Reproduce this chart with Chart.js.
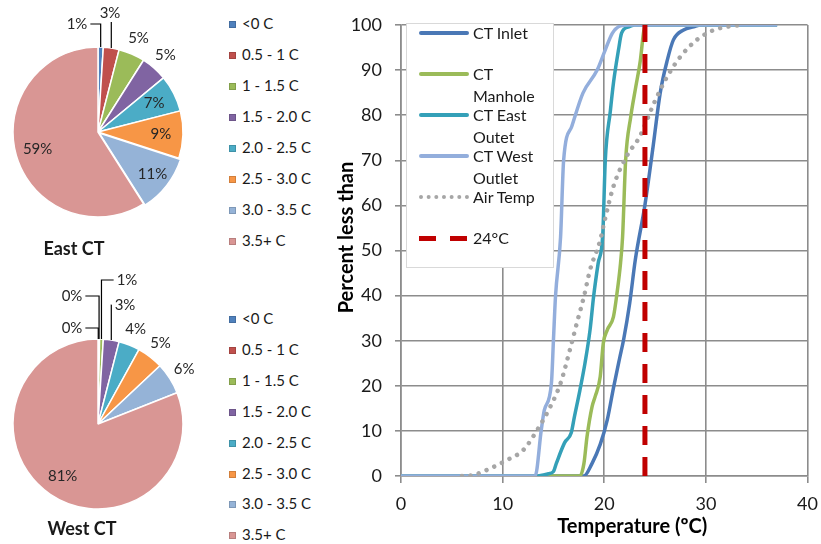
<!DOCTYPE html>
<html>
<head>
<meta charset="utf-8">
<script src="https://cdn.jsdelivr.net/npm/chart.js@4.4.0/dist/chart.umd.min.js"></script>
<style>
  body { margin: 0; width: 821px; height: 544px; overflow: hidden; background: #fff; position: relative; font-family: Lato, sans-serif; color: #1a1a1a; }
  canvas { position: absolute; }
  #eastPie { left: 0; top: 0; }
  #westPie { left: 0; top: 270px; }
  #cdf { left: 330px; top: 0; }
  .pieTitle { position: absolute; font-weight: bold; font-size: 18px; transform: translate(-50%, -50%); white-space: nowrap; }
  .pieLegend { position: absolute; left: 229px; font-size: 15px; }
  .pieLegend div { position: absolute; white-space: nowrap; line-height: 18px; }
  .pieLegend span { display: inline-block; width: 7px; height: 7px; margin-right: 6px; vertical-align: 1px; border: 1px solid rgba(0,0,0,0.15); box-sizing: border-box; }
  #cdfLegend { position: absolute; left: 406px; top: 23px; width: 146px; height: 243px; border: 1px solid #d9d9d9; background: #fff; }
  .item { position: absolute; left: 0; font-size: 16px; line-height: 22px; }
  .item .sample { position: absolute; left: 12px; top: 9px; width: 50px; height: 4px; border-radius: 2px; }
  .item .txt { position: absolute; left: 66px; width: 78px; }
</style>
</head>
<body>
<canvas id="eastPie" width="196" height="264"></canvas>
<canvas id="westPie" width="196" height="274"></canvas>
<canvas id="cdf" width="498" height="544"></canvas>
<div class="pieTitle" style="left:74px; top:248px;">East CT</div>
<div class="pieTitle" style="left:82px; top:528px;">West CT</div>
<div class="pieLegend" id="eastLegend" style="top:14px;"></div>
<div class="pieLegend" id="westLegend" style="top:309px;"></div>
<div id="cdfLegend"></div>
<script>
// temperature-difference bins for the pies
const binLabels = ['<0 C', '0.5 - 1 C', '1 - 1.5 C', '1.5 - 2.0 C', '2.0 - 2.5 C', '2.5 - 3.0 C', '3.0 - 3.5 C', '3.5+ C'];
const eastShare = [1, 3, 5, 5, 7, 9, 11, 59];
const westShare = [0.1, 0.2, 0.7, 3, 4, 5, 6, 81];
const binColors = ['#4F81BD', '#C0504D', '#9BBB59', '#8064A2', '#4BACC6', '#F79646', '#95B3D7', '#D99694'];

// cumulative curves: temperature (C) vs percent less than
const seriesNames = ['CT Inlet', 'CT Manhole', 'CT East Outet', 'CT West Outlet', 'Air Temp', '24°C'];
const inletTemp = [0, 18.0, 18.8, 19.6, 20.3, 20.9, 21.5, 21.9, 22.5, 23.05, 24.0, 24.8, 25.5, 26.2, 26.8, 27.8, 28.8, 29.5, 37];
const inletPct  = [0, 0, 2.8, 7, 12.5, 19.5, 26, 30.2, 38.3, 47.9, 60.1, 73, 84.9, 92.2, 96.7, 98.9, 99.6, 100, 100];
const manholeTemp = [0, 17.6, 18.0, 18.3, 18.8, 19.1, 19.6, 19.9, 20.3, 20.9, 21.25, 21.6, 21.8, 22.1, 22.6, 23.1, 23.55, 23.9, 24.1, 37];
const manholePct  = [0, 0, 2.8, 8.7, 15.4, 17.6, 22, 29.4, 32.4, 35.3, 40.5, 47.2, 53, 70, 79.6, 86.3, 92.2, 98.9, 100, 100];
const eastOutTemp = [0, 13.3, 14.5, 15.0, 15.3, 16.1, 16.75, 17.05, 17.6, 18.1, 18.6, 18.95, 19.4, 19.85, 20.1, 20.6, 20.9, 21.4, 21.7, 22.4, 23, 37];
const eastOutPct  = [0, 0, 0.5, 1, 2.9, 7.4, 9.6, 13, 19, 25, 32.4, 39.8, 47.2, 53.5, 70, 81, 87.1, 94.5, 98.2, 99.6, 100, 100];
const westOutTemp = [0, 13.2, 13.8, 14.1, 14.8, 15.0, 15.2, 15.7, 16.0, 16.8, 17.9, 19.3, 20.1, 20.8, 21.6, 22.5, 37];
const westOutPct  = [0, 0, 10.2, 14.6, 20.6, 30.2, 39.8, 53, 70, 77.5, 84.9, 90, 94.5, 98.2, 99.8, 100, 100];
const airTemp = [6.0, 7.1, 8.8, 10.4, 12.05, 13.4, 14.7, 15.7, 16.7, 17.3, 18.0, 18.6, 19.6, 19.9, 20.9, 22.2, 23.5, 24.9, 26.2, 27.5, 29.1, 30.8, 32.1, 33.5];
const airPct  = [0, 0.2, 1.7, 3.5, 5.8, 10.2, 15.4, 20.6, 28.7, 33.9, 39.8, 45.7, 52.3, 55.3, 64.2, 70.9, 75.3, 82.7, 88.6, 93, 96.7, 98.9, 99.6, 100];
const limitTemp = [24, 24];
const limitPct = [0, 100];

const pts = (xs, ys) => xs.map((x, i) => ({ x: x, y: ys[i] }));

// percentage labels around the pies
const pieLabels = {
  id: 'pieLabels',
  afterDatasetsDraw(chart, args, opts) {
    const ctx = chart.ctx;
    const values = chart.data.datasets[0].data;
    const total = values.reduce((a, b) => a + b, 0);
    const lead = opts.lead || {};
    ctx.save();
    ctx.font = '15px Lato';
    ctx.fillStyle = '#262626';
    ctx.strokeStyle = '#000';
    ctx.lineWidth = 1.2;
    ctx.textAlign = 'center';
    ctx.textBaseline = 'middle';
    chart.getDatasetMeta(0).data.forEach((arc, i) => {
      const p = arc.getProps(['x', 'y', 'startAngle', 'endAngle', 'outerRadius'], true);
      const mid = (p.startAngle + p.endAngle) / 2;
      const off = arc.options.offset || 0;
      const pct = Math.round(values[i] / total * 100);
      const text = pct + '%';
      const w = ctx.measureText(text).width;
      let tx, ty;
      if (lead[i]) {
        tx = p.x + lead[i][0];
        ty = p.y + lead[i][1];
        const ex = p.x + Math.cos(mid) * p.outerRadius;
        const ey = p.y + Math.sin(mid) * p.outerRadius;
        ctx.beginPath();
        if (Math.abs(tx - ex) < w / 2 + 3) {
          ctx.moveTo(ex, ty + 9);
        } else {
          const sx = tx < ex ? tx + w / 2 + 3 : tx - w / 2 - 3;
          ctx.moveTo(sx, ty);
          ctx.lineTo(ex, ty);
        }
        ctx.lineTo(ex, ey);
        ctx.stroke();
      } else {
        const r = values[i] / total * 100 >= 6.5 ? p.outerRadius * 0.74 : p.outerRadius + 17;
        tx = p.x + Math.cos(mid) * (r + off);
        ty = p.y + Math.sin(mid) * (r + off);
      }
      ctx.fillText(text, tx, ty);
    });
    ctx.restore();
  }
};

function makePie(id, values, offsets, lead, padTop) {
  return new Chart(document.getElementById(id), {
    type: 'pie',
    data: {
      labels: binLabels,
      datasets: [{
        data: values,
        backgroundColor: binColors,
        borderColor: '#fff',
        borderWidth: 1.5,
        offset: offsets
      }]
    },
    options: {
      responsive: false,
      animation: false,
      events: [],
      radius: 85,
      layout: { padding: { top: padTop } },
      plugins: { legend: { display: false }, tooltip: { enabled: false }, pieLabels: { lead: lead } }
    },
    plugins: [pieLabels]
  });
}

makePie('eastPie', eastShare, [0, 0, 0, 0, 0, 0, 6, 0], { 0: [-21, -108], 1: [12, -119] }, 0);
makePie('westPie', westShare, 0, { 0: [-26, -96], 1: [-26, -128], 2: [29, -144], 3: [27, -119] }, 34);

function pieLegend(id, rowGap) {
  const box = document.getElementById(id);
  binLabels.forEach((lab, i) => {
    const row = document.createElement('div');
    row.style.top = (i * rowGap) + 'px';
    row.innerHTML = '<span style="background:' + binColors[i] + '"></span>' + lab.replace('<', '&lt;');
    box.appendChild(row);
  });
}
pieLegend('eastLegend', 31);
pieLegend('westLegend', 30.9);

// axis titles placed like the spreadsheet did (slightly off-centre)
const axisTitles = {
  id: 'axisTitles',
  afterDraw(chart) {
    const { ctx, chartArea } = chart;
    ctx.save();
    ctx.font = 'bold 20px Lato';
    ctx.fillStyle = '#000';
    ctx.textAlign = 'center';
    ctx.textBaseline = 'middle';
    ctx.fillText('Temperature (ºC)', (chartArea.left + chartArea.right) / 2 + 28, chartArea.bottom + 51);
    ctx.translate(chartArea.left - 54, (chartArea.top + chartArea.bottom) / 2 - 13);
    ctx.rotate(-Math.PI / 2);
    ctx.fillText('Percent less than', 0, 0);
    ctx.restore();
  }
};

const lineColors = ['#4A78B6', '#9BBB59', '#34A0B8', '#93AEDC', '#A6A6A6', '#C00000'];
const gridColor = '#8c8c8c';
const tickFont = { family: 'Lato', size: 18 };

const cdfChart = new Chart(document.getElementById('cdf'), {
  type: 'line',
  data: {
    datasets: [
      { label: seriesNames[0], data: pts(inletTemp, inletPct), order: 0 },
      { label: seriesNames[1], data: pts(manholeTemp, manholePct), order: -1 },
      { label: seriesNames[2], data: pts(eastOutTemp, eastOutPct), order: -2 },
      { label: seriesNames[3], data: pts(westOutTemp, westOutPct), order: -3 },
      { label: seriesNames[4], data: pts(airTemp, airPct), order: -4, borderDash: [0.01, 8.5], borderWidth: 4.5, borderCapStyle: 'round' },
      { label: seriesNames[5], data: pts(limitTemp, limitPct), order: -5, borderDash: [19, 12], borderWidth: 5, cubicInterpolationMode: 'default', tension: 0 }
    ].map((d, i) => Object.assign({
      borderColor: lineColors[i],
      borderWidth: 3.5,
      pointRadius: 0,
      fill: false,
      cubicInterpolationMode: 'monotone'
    }, d))
  },
  options: {
    responsive: false,
    animation: false,
    events: [],
    layout: { padding: { top: 25, right: 14, left: 0, bottom: 0 } },
    plugins: { legend: { display: false }, tooltip: { enabled: false } },
    scales: {
      x: {
        type: 'linear', min: 0, max: 40,
        ticks: { stepSize: 10, font: tickFont, color: '#1a1a1a', padding: 10, maxRotation: 0 },
        grid: { color: gridColor, lineWidth: 1.6, tickLength: 7 },
        border: { color: gridColor, width: 1.6 },
        afterFit: s => { s.height = 68; }
      },
      y: {
        min: 0, max: 100,
        ticks: { stepSize: 10, font: tickFont, color: '#1a1a1a', padding: 13 },
        grid: { color: gridColor, lineWidth: 1.6, tickLength: 6 },
        border: { color: gridColor, width: 1.6 },
        afterFit: s => { s.width = 71; }
      }
    }
  },
  plugins: [axisTitles]
});

// legend box for the curves, built from the datasets
const lg = document.getElementById('cdfLegend');
cdfChart.data.datasets.forEach((d, i) => {
  const item = document.createElement('div');
  item.className = 'item';
  item.style.top = (-2 + 41 * i) + 'px';
  let sample;
  if (i === 4) {
    sample = 'border-radius:0;height:0;border-top:4px dotted ' + d.borderColor + ';';
  } else if (i === 5) {
    sample = 'border-radius:0;height:5px;width:48px;background:repeating-linear-gradient(to right,' + d.borderColor + ' 0 17px, transparent 17px 31px);';
  } else {
    sample = 'background:' + d.borderColor + ';';
  }
  item.innerHTML = '<div class="sample" style="' + sample + '"></div><div class="txt">' + d.label + '</div>';
  lg.appendChild(item);
});
</script>
</body>
</html>
